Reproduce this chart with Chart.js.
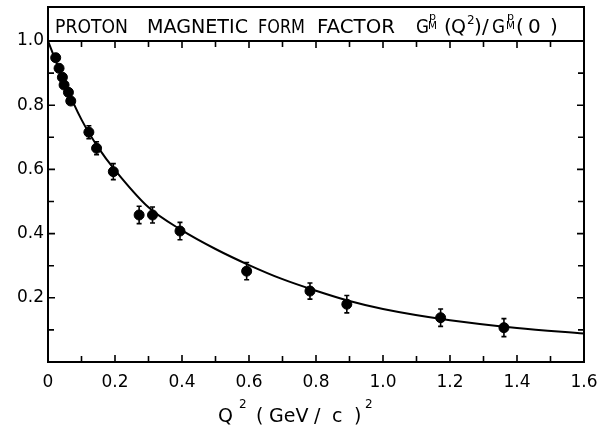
<!DOCTYPE html>
<html>
<head>
<meta charset="utf-8">
<title>Proton magnetic form factor</title>
<script src="https://cdn.jsdelivr.net/npm/chart.js@4.4.1/dist/chart.umd.min.js"></script>
<style>
  html, body { margin: 0; padding: 0; background: #fff; }
  #wrap { width: 599px; height: 429px; }
</style>
</head>
<body>
<div id="wrap"><canvas id="ff" width="599" height="429"></canvas></div>
<script>
// ---------- data ----------
const q2Points = [0.023, 0.033, 0.043, 0.048, 0.061, 0.068, 0.122, 0.145, 0.195, 0.272, 0.312, 0.394, 0.593, 0.782, 0.892, 1.172, 1.361];
const gmPoints = [0.948, 0.915, 0.887, 0.863, 0.840, 0.813, 0.716, 0.666, 0.593, 0.458, 0.458, 0.408, 0.283, 0.221, 0.180, 0.138, 0.107];
const gmErrors = [0.010, 0.010, 0.010, 0.010, 0.010, 0.010, 0.020, 0.020, 0.025, 0.027, 0.025, 0.027, 0.027, 0.025, 0.027, 0.027, 0.028];

// fitted curve
const q2Curve = [0, 0.05, 0.1, 0.15, 0.2, 0.3, 0.4, 0.5, 0.6, 0.7, 0.8, 0.9, 1.0, 1.2, 1.4, 1.6];
const gmCurve = [1.0, 0.868, 0.755, 0.668, 0.598, 0.482, 0.410, 0.352, 0.302, 0.258, 0.222, 0.190, 0.165, 0.130, 0.106, 0.089];

// axis ticks
const xTickLabels = [0, 0.2, 0.4, 0.6, 0.8, 1.0, 1.2, 1.4, 1.6];
const xMinorTicks = [0.1, 0.3, 0.5, 0.7, 0.9, 1.1, 1.3, 1.5];
const yTickLabels = [0.2, 0.4, 0.6, 0.8, 1.0];
const yMinorTicks = [0.1, 0.3, 0.5, 0.7, 0.9];

const FONT = "'DejaVu Sans', 'Liberation Sans', sans-serif";

// ---------- plugins ----------
const whiteBg = {
  id: 'whiteBg',
  beforeDraw(chart) {
    const c = chart.ctx;
    c.save();
    c.fillStyle = '#fff';
    c.fillRect(0, 0, chart.width, chart.height);
    c.restore();
  }
};

const errorBars = {
  id: 'errorBars',
  afterDatasetsDraw(chart) {
    const c = chart.ctx, xs = chart.scales.x, ys = chart.scales.y;
    c.save();
    c.strokeStyle = '#000';
    c.lineWidth = 1.6;
    q2Points.forEach((q, i) => {
      const px = xs.getPixelForValue(q);
      const top = ys.getPixelForValue(gmPoints[i] + gmErrors[i]);
      const bot = ys.getPixelForValue(gmPoints[i] - gmErrors[i]);
      c.beginPath();
      c.moveTo(px, top); c.lineTo(px, bot);
      c.moveTo(px - 2.5, top); c.lineTo(px + 2.5, top);
      c.moveTo(px - 2.5, bot); c.lineTo(px + 2.5, bot);
      c.stroke();
    });
    c.restore();
  }
};

// frame, inward ticks, title box, axis title
const frame = {
  id: 'frame',
  afterDraw(chart) {
    const c = chart.ctx, a = chart.chartArea;
    const xs = chart.scales.x, ys = chart.scales.y;
    const boxTop = 7;
    c.save();
    c.strokeStyle = '#000';
    c.lineWidth = 2;
    c.strokeRect(a.left, boxTop, a.right - a.left, a.bottom - boxTop);
    c.beginPath();
    c.moveTo(a.left, a.top); c.lineTo(a.right, a.top);
    c.stroke();

    c.lineWidth = 1.6;
    c.beginPath();
    const xt = (v, len) => {
      const p = xs.getPixelForValue(v);
      c.moveTo(p, a.bottom); c.lineTo(p, a.bottom - len);
      c.moveTo(p, a.top); c.lineTo(p, a.top + len);
    };
    const yt = (v, len) => {
      const p = ys.getPixelForValue(v);
      c.moveTo(a.left, p); c.lineTo(a.left + len, p);
      c.moveTo(a.right, p); c.lineTo(a.right - len, p);
    };
    xTickLabels.forEach(v => xt(v, 7));
    xMinorTicks.forEach(v => xt(v, 6));
    yTickLabels.forEach(v => yt(v, 7));
    yMinorTicks.forEach(v => yt(v, 6));
    c.stroke();

    // title inside the box
    c.fillStyle = '#000';
    c.textBaseline = 'alphabetic';
    c.textAlign = 'left';
    c.font = '20px ' + FONT;
    const base = 33;
    c.fillText('PROTON', 55, base, 73);
    c.fillText('MAGNETIC', 147, base, 101);
    c.fillText('FORM', 258, base, 47);
    c.fillText('FACTOR', 317, base, 78);
    c.fillText('G', 416, base, 13);
    c.fillText('(', 444, base);
    c.fillText('Q', 451, base, 15);
    c.fillText(')', 474, base);
    c.fillText('/', 482, base);
    c.fillText('G', 492, base, 13);
    c.fillText('(', 516, base);
    c.fillText('0', 528, base, 14);
    c.fillText(')', 550, base);
    c.font = '11px ' + FONT;
    c.fillText('p', 429, 20);
    c.fillText('M', 428, 29, 9);
    c.fillText('p', 507, 20);
    c.fillText('M', 506, 29, 9);
    c.font = '12px ' + FONT;
    c.fillText('2', 467, 24);

    // x axis title
    c.font = '19px ' + FONT;
    const ab = 422;
    c.fillText('Q', 218, ab);
    c.fillText('(', 256, ab);
    c.fillText('GeV', 269, ab);
    c.fillText('/', 314, ab);
    c.fillText('c', 332, ab);
    c.fillText(')', 354, ab);
    c.font = '12px ' + FONT;
    c.fillText('2', 239, 408);
    c.fillText('2', 365, 408);
    c.restore();
  }
};

// ---------- chart ----------
new Chart(document.getElementById('ff').getContext('2d'), {
  type: 'scatter',
  data: {
    datasets: [
      {
        type: 'line',
        label: 'fit',
        data: q2Curve.map((q, i) => ({ x: q, y: gmCurve[i] })),
        borderColor: '#000',
        borderWidth: 2,
        pointRadius: 0,
        fill: false,
        cubicInterpolationMode: 'monotone'
      },
      {
        label: 'data',
        data: q2Points.map((q, i) => ({ x: q, y: gmPoints[i] })),
        backgroundColor: '#000',
        borderColor: '#000',
        pointRadius: 5,
        pointHoverRadius: 5
      }
    ]
  },
  options: {
    responsive: false,
    animation: false,
    devicePixelRatio: 1,
    layout: { padding: { top: 41, right: 15, left: 0, bottom: 0 } },
    plugins: { legend: { display: false }, tooltip: { enabled: false } },
    scales: {
      x: {
        type: 'linear', min: 0, max: 1.6,
        grid: { display: false, drawTicks: false },
        border: { display: false },
        afterBuildTicks: s => { s.ticks = xTickLabels.map(v => ({ value: v })); },
        afterFit: s => { s.height = 67; s.paddingLeft = 0; s.paddingRight = 0; },
        ticks: {
          color: '#000', padding: 10,
          font: { family: FONT, size: 17 },
          maxRotation: 0,
          callback: v => (v === 0 ? '0' : Number(v).toFixed(1))
        }
      },
      y: {
        type: 'linear', min: 0, max: 1.0,
        grid: { display: false, drawTicks: false },
        border: { display: false },
        afterBuildTicks: s => { s.ticks = yTickLabels.map(v => ({ value: v })); },
        afterFit: s => { s.width = 48; s.paddingTop = 0; s.paddingBottom = 0; },
        ticks: {
          color: '#000', padding: 4,
          font: { family: FONT, size: 17 },
          callback: v => Number(v).toFixed(1)
        }
      }
    }
  },
  plugins: [whiteBg, errorBars, frame]
});
</script>
</body>
</html>
